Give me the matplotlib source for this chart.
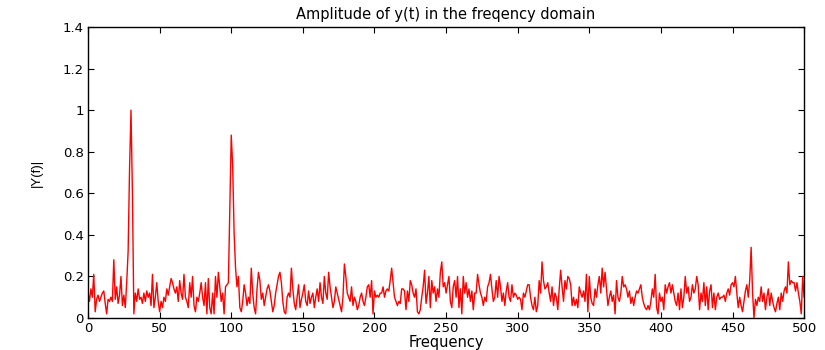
import numpy as np
import matplotlib
matplotlib.use('Agg')
import matplotlib.pyplot as plt
from matplotlib import rc

rc('font', family='DejaVu Sans', size=9)

# |Y(f)|, one value per Hz from 0 to 500
amp = [
    0.12, 0.08, 0.14, 0.10, 0.21, 0.03, 0.09, 0.11, 0.08, 0.10,
    0.12, 0.13, 0.07, 0.02, 0.09, 0.08, 0.10, 0.08, 0.28, 0.09,
    0.15, 0.07, 0.11, 0.20, 0.06, 0.11, 0.05, 0.17, 0.32, 0.72,
    1.00, 0.60, 0.02, 0.12, 0.08, 0.14, 0.09, 0.10, 0.07, 0.12,
    0.08, 0.13, 0.10, 0.12, 0.06, 0.21, 0.05, 0.10, 0.17, 0.08,
    0.03, 0.08, 0.05, 0.10, 0.08, 0.14, 0.11, 0.15, 0.19, 0.17,
    0.14, 0.12, 0.15, 0.08, 0.18, 0.12, 0.09, 0.21, 0.10, 0.08,
    0.05, 0.17, 0.10, 0.20, 0.06, 0.03, 0.10, 0.08, 0.12, 0.17,
    0.10, 0.06, 0.17, 0.02, 0.19, 0.05, 0.02, 0.12, 0.02, 0.20,
    0.10, 0.22, 0.15, 0.08, 0.12, 0.02, 0.15, 0.16, 0.17, 0.53,
    0.88, 0.73, 0.41, 0.24, 0.15, 0.20, 0.05, 0.03, 0.08, 0.16,
    0.12, 0.06, 0.10, 0.07, 0.24, 0.12, 0.05, 0.02, 0.14, 0.22,
    0.18, 0.09, 0.12, 0.06, 0.10, 0.14, 0.16, 0.13, 0.08, 0.03,
    0.06, 0.12, 0.16, 0.20, 0.22, 0.17, 0.08, 0.03, 0.02, 0.10,
    0.12, 0.10, 0.24, 0.14, 0.07, 0.04, 0.10, 0.16, 0.05, 0.09,
    0.12, 0.16, 0.08, 0.06, 0.13, 0.07, 0.10, 0.12, 0.05, 0.10,
    0.14, 0.08, 0.17, 0.10, 0.07, 0.20, 0.12, 0.09, 0.22, 0.15,
    0.10, 0.05, 0.08, 0.15, 0.12, 0.09, 0.06, 0.03, 0.10, 0.26,
    0.20, 0.12, 0.10, 0.08, 0.15, 0.06, 0.10, 0.08, 0.04, 0.06,
    0.10, 0.12, 0.08, 0.06, 0.10, 0.15, 0.16, 0.10, 0.18, 0.02,
    0.13, 0.10, 0.11, 0.10, 0.12, 0.12, 0.15, 0.10, 0.13, 0.14,
    0.13, 0.18, 0.24, 0.17, 0.10, 0.08, 0.06, 0.08, 0.07, 0.14,
    0.14, 0.13, 0.04, 0.13, 0.08, 0.18, 0.16, 0.12, 0.10, 0.14,
    0.03, 0.02, 0.04, 0.10, 0.15, 0.23, 0.07, 0.12, 0.20, 0.05,
    0.18, 0.12, 0.15, 0.08, 0.14, 0.10, 0.22, 0.27, 0.15, 0.17,
    0.12, 0.16, 0.20, 0.08, 0.05, 0.15, 0.18, 0.10, 0.20, 0.05,
    0.14, 0.02, 0.20, 0.12, 0.17, 0.10, 0.14, 0.08, 0.13, 0.04,
    0.12, 0.12, 0.21, 0.16, 0.12, 0.10, 0.06, 0.10, 0.08, 0.15,
    0.17, 0.21, 0.14, 0.08, 0.10, 0.18, 0.10, 0.20, 0.15, 0.08,
    0.12, 0.06, 0.13, 0.17, 0.10, 0.08, 0.16, 0.10, 0.12, 0.11,
    0.09, 0.10, 0.09, 0.04, 0.12, 0.10, 0.13, 0.16, 0.16, 0.10,
    0.06, 0.04, 0.10, 0.03, 0.06, 0.18, 0.12, 0.27, 0.18, 0.14,
    0.15, 0.17, 0.12, 0.08, 0.15, 0.06, 0.12, 0.10, 0.04, 0.14,
    0.23, 0.15, 0.08, 0.18, 0.14, 0.20, 0.19, 0.16, 0.06, 0.10,
    0.06, 0.09, 0.05, 0.15, 0.12, 0.10, 0.13, 0.08, 0.21, 0.03,
    0.20, 0.10, 0.07, 0.06, 0.14, 0.10, 0.16, 0.20, 0.12, 0.24,
    0.15, 0.22, 0.14, 0.06, 0.10, 0.13, 0.08, 0.11, 0.02, 0.18,
    0.10, 0.08, 0.12, 0.20, 0.15, 0.16, 0.14, 0.10, 0.13, 0.07,
    0.10, 0.06, 0.10, 0.13, 0.12, 0.14, 0.16, 0.10, 0.07, 0.05,
    0.04, 0.06, 0.04, 0.08, 0.14, 0.10, 0.21, 0.05, 0.02, 0.12,
    0.08, 0.10, 0.04, 0.16, 0.12, 0.15, 0.17, 0.12, 0.16, 0.12,
    0.08, 0.06, 0.12, 0.04, 0.14, 0.05, 0.10, 0.20, 0.12, 0.15,
    0.08, 0.10, 0.16, 0.12, 0.14, 0.20, 0.16, 0.04, 0.12, 0.08,
    0.17, 0.06, 0.15, 0.04, 0.13, 0.16, 0.05, 0.12, 0.04, 0.10,
    0.12, 0.09, 0.10, 0.10, 0.11, 0.08, 0.12, 0.14, 0.11, 0.16,
    0.17, 0.15, 0.20, 0.12, 0.05, 0.10, 0.06, 0.03, 0.08, 0.13,
    0.16, 0.10, 0.18, 0.34, 0.12, 0.00, 0.09, 0.06, 0.10, 0.08,
    0.15, 0.08, 0.12, 0.04, 0.10, 0.14, 0.06, 0.12, 0.08, 0.05,
    0.03, 0.07, 0.10, 0.04, 0.12, 0.08, 0.13, 0.15, 0.12, 0.27,
    0.16, 0.18, 0.17, 0.17, 0.13, 0.17, 0.12, 0.08, 0.02, 0.20,
    0.10,
]
freq = np.arange(len(amp))

xticks = [0, 50, 100, 150, 200, 250, 300, 350, 400, 450, 500]
yticks = [0, 0.2, 0.4, 0.6, 0.8, 1.0, 1.2, 1.4]
ytick_labels = ['0', '0.2', '0.4', '0.6', '0.8', '1', '1.2', '1.4']

#======================================
fig = plt.figure(figsize=(8.25, 3.5), dpi=100)
ax = fig.add_axes([0.1067, 0.0914, 0.868, 0.8314])
#======================================

ax.plot(freq, amp, '-', color='#ff0000', linewidth=1.0)

ax.set_xlim([0, 500])
ax.set_ylim([0, 1.4])
ax.set_xticks(xticks)
ax.set_yticks(yticks)
ax.set_yticklabels(ytick_labels)
ax.tick_params(direction='in', top=True, right=True, length=4, width=0.8,
               pad=3, labelsize=9.5)
for s in ax.spines.values():
    s.set_linewidth(1.0)

ax.set_title('Amplitude of y(t) in the freqency domain', fontsize=10.5, pad=6)
ax.set_xlabel('Frequency', fontsize=10.5, labelpad=0)
ax.set_ylabel('|Y(f)|', family='Liberation Sans', fontsize=9.5, labelpad=14)

plt.savefig('out.png', dpi=100)
